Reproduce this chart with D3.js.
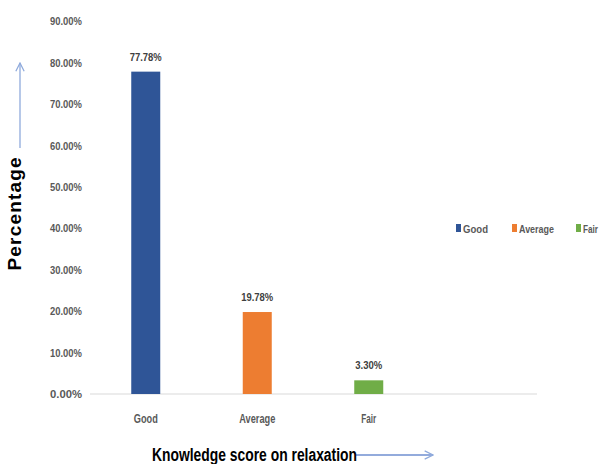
<!DOCTYPE html>
<html><head><meta charset="utf-8">
<script src="https://cdn.jsdelivr.net/npm/d3@7"></script>
<style>body{margin:0;background:#fff}svg{display:block}</style>
</head><body>
<script>
const categories = ["Good", "Average", "Fair"];
const values = [77.78, 19.78, 3.30];
const colors = ["#2f5597", "#ed7d31", "#70ad47"];
const yTicks = [0, 10, 20, 30, 40, 50, 60, 70, 80, 90];

const W = 604, H = 464;
const svg = d3.select("body").append("svg").attr("width", W).attr("height", H);
const sans = "'Liberation Sans',Arial,sans-serif";

const y = d3.scaleLinear().domain([0, 90]).range([394, 21]);
const x = d3.scaleBand().domain(categories).range([90, 424.5]).padding(0);
const barW = 29;

// baseline
svg.append("line").attr("x1", 90).attr("x2", 537).attr("y1", y(0)).attr("y2", y(0))
  .attr("stroke", "#d9d9d9").attr("stroke-width", 1);

// y axis labels
const yAxis = d3.axisLeft(y).tickValues(yTicks).tickSize(0).tickPadding(0)
  .tickFormat(d => d.toFixed(2) + "%");
const gy = svg.append("g").attr("transform", "translate(82,0)").call(yAxis);
gy.select(".domain").remove();
gy.selectAll("text").attr("font-family", sans).attr("font-size", 11.5).attr("font-weight", "bold")
  .attr("fill", "#595959").attr("textLength", 32).attr("lengthAdjust", "spacingAndGlyphs");

// bars
svg.selectAll("rect.bar").data(values).enter().append("rect").attr("class", "bar")
  .attr("x", (d, i) => x(categories[i]) + x.bandwidth() / 2 - barW / 2)
  .attr("width", barW)
  .attr("y", d => y(d)).attr("height", d => y(0) - y(d))
  .attr("fill", (d, i) => colors[i]);

// value labels
svg.selectAll("text.val").data(values).enter().append("text").attr("class", "val")
  .attr("x", (d, i) => x(categories[i]) + x.bandwidth() / 2)
  .attr("y", d => y(d) - 11)
  .attr("text-anchor", "middle").attr("font-family", sans).attr("font-size", 11.5)
  .attr("font-weight", "bold").attr("fill", "#404040")
  .attr("textLength", d => d >= 10 ? 32 : 27).attr("lengthAdjust", "spacingAndGlyphs")
  .text(d => d.toFixed(2) + "%");

// x axis labels
const xAxis = d3.axisBottom(x).tickSize(0).tickPadding(0);
const gx = svg.append("g").attr("transform", "translate(0,414)").call(xAxis);
gx.select(".domain").remove();
gx.selectAll("text").attr("font-family", sans).attr("font-size", 12.5).attr("font-weight", "bold")
  .attr("fill", "#595959")
  .attr("textLength", d => ({Good: 24, Average: 36, Fair: 15})[d]).attr("lengthAdjust", "spacingAndGlyphs");

// legend
const legX = [456, 512, 576];
const legLen = [25, 35, 15];
const leg = svg.selectAll("g.leg").data(categories).enter().append("g").attr("class", "leg")
  .attr("transform", (d, i) => `translate(${legX[i]},228)`);
leg.append("rect").attr("x", 0).attr("y", -4).attr("width", 5).attr("height", 8)
  .attr("fill", (d, i) => colors[i]);
leg.append("text").attr("x", 7).attr("y", 4.5).attr("font-family", sans).attr("font-size", 11)
  .attr("font-weight", "bold").attr("fill", "#595959")
  .attr("textLength", (d, i) => legLen[i]).attr("lengthAdjust", "spacingAndGlyphs").text(d => d);

// arrows
const defs = svg.append("defs");
defs.append("marker").attr("id", "ah").attr("viewBox", "0 0 10 10").attr("refX", 9).attr("refY", 5)
  .attr("markerWidth", 8).attr("markerHeight", 8).attr("orient", "auto")
  .append("path").attr("d", "M1,1 L9,5 L1,9").attr("fill", "none").attr("stroke", "#8faadc").attr("stroke-width", 1.2);

svg.append("line").attr("x1", 20).attr("y1", 148).attr("x2", 20).attr("y2", 63)
  .attr("stroke", "#8faadc").attr("stroke-width", 1.3).attr("marker-end", "url(#ah)");
svg.append("line").attr("x1", 356).attr("y1", 455).attr("x2", 433).attr("y2", 455)
  .attr("stroke", "#6f8fd0").attr("stroke-width", 1.3).attr("marker-end", "url(#ah)");

// axis titles
svg.append("text").attr("transform", "translate(21,214) rotate(-90)")
  .attr("text-anchor", "middle").attr("font-family", sans)
  .attr("font-size", 19).attr("font-weight", "bold").attr("fill", "#000")
  .attr("textLength", 113).attr("lengthAdjust", "spacing").text("Percentage");
svg.append("text").attr("x", 152).attr("y", 461)
  .attr("font-family", sans).attr("font-size", 18).attr("font-weight", "bold").attr("fill", "#000")
  .attr("textLength", 205).attr("lengthAdjust", "spacingAndGlyphs").text("Knowledge score on relaxation");
</script>
</body></html>
